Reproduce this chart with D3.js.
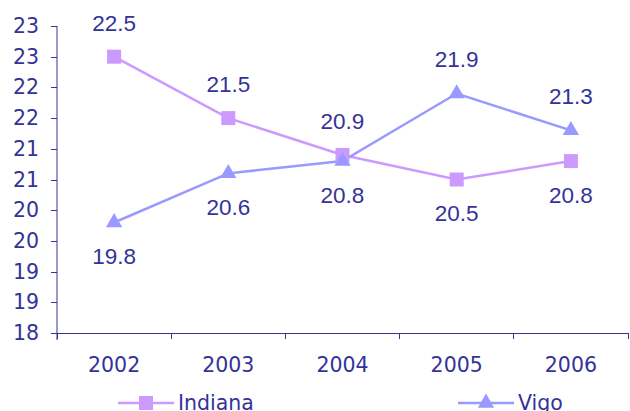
<html>
<head>
    <style>
        body { margin: 0; background: #fff; }
        text { font-family: "DejaVu Sans", Verdana, sans-serif; font-size: 20.5px; fill: #333399; }
        .val { font-family: "Liberation Sans", Arial, sans-serif; font-size: 22.5px; }
    </style>
</head>
<body>
    <svg id="container" width="630" height="411"></svg>
<script src="https://cdn.jsdelivr.net/npm/d3@7"></script>
<script>
    // chart data
    let years = ["2002", "2003", "2004", "2005", "2006"]
    let indiana = [22.5, 21.5, 20.9, 20.5, 20.8]
    let vigo = [19.8, 20.6, 20.8, 21.9, 21.3]
    let yTicks = [18, 18.5, 19, 19.5, 20, 20.5, 21, 21.5, 22, 22.5, 23]

    let svg = d3.select("#container")
    let axisColor = "#333399"

    let xScale = d3.scaleBand().domain(years).range([57, 628])
    let yScale = d3.scaleLinear().domain([18, 23]).range([333, 26])

    // y axis
    let yAxis = svg.append("g")
        .attr("transform", "translate(57,0)")
        .call(d3.axisLeft(yScale).tickValues(yTicks).tickSize(6).tickPadding(12)
            .tickFormat(d => Math.round(d)))
    yAxis.select(".domain").attr("d", "M0,26V340")
    yAxis.selectAll("line").attr("stroke", axisColor)
    yAxis.selectAll("path").attr("stroke", axisColor)
    yAxis.selectAll("text").attr("font-size", null).attr("font-family", null)
        .style("fill", axisColor)

    // x axis, ticks sit at the band edges
    let xAxis = svg.append("g").attr("transform", "translate(0,333)")
    xAxis.append("line").attr("x1", 57).attr("x2", 628).attr("stroke", axisColor)
    let edges = years.map(y => xScale(y)).concat([xScale.range()[1]])
    xAxis.selectAll(".tk").data(edges).join("line")
        .attr("x1", d => d).attr("x2", d => d).attr("y1", 0).attr("y2", 6)
        .attr("stroke", axisColor)
    xAxis.selectAll(".lbl").data(years).join("text")
        .attr("x", d => xScale(d) + xScale.bandwidth() / 2)
        .attr("y", 32).attr("dy", "0.35em").attr("text-anchor", "middle")
        .text(d => d)
    svg.selectAll("line").attr("shape-rendering", "crispEdges")

    let cx = d => xScale(d) + xScale.bandwidth() / 2
    let series = [
        { name: "Indiana", values: indiana, other: vigo, color: "#cc99ff", symbol: d3.symbolSquare, size: 196 },
        { name: "Vigo", values: vigo, other: indiana, color: "#9999ff", symbol: d3.symbolTriangle, size: 115 }
    ]

    series.forEach(s => {
        let line = d3.line().x((d, i) => cx(years[i])).y(d => yScale(d))
        svg.append("path").datum(s.values)
            .attr("d", line).attr("fill", "none")
            .attr("stroke", s.color).attr("stroke-width", 2.5)
    })

    series.forEach(s => {
        svg.selectAll(null).data(s.values).join("path")
            .attr("transform", (d, i) => "translate(" + cx(years[i]) + "," + yScale(d) + ")")
            .attr("d", d3.symbol().type(s.symbol).size(s.size))
            .attr("fill", s.color)
        // label goes above when this series is the higher one
        svg.selectAll(null).data(s.values).join("text")
            .attr("class", "val")
            .attr("x", (d, i) => cx(years[i]))
            .attr("y", (d, i) => yScale(d) + (d > s.other[i] ? -34 : 34))
            .attr("dy", "0.35em").attr("text-anchor", "middle")
            .text(d => d.toFixed(1))
    })

    // legend
    let legendX = [118, 458]
    series.forEach((s, i) => {
        let g = svg.append("g").attr("transform", "translate(" + legendX[i] + ",403)")
        g.append("line").attr("x1", 0).attr("x2", 56).attr("stroke", s.color).attr("stroke-width", 2.5)
        g.append("path").attr("transform", "translate(28,0)")
            .attr("d", d3.symbol().type(s.symbol).size(s.size)).attr("fill", s.color)
        g.append("text").attr("x", 60).attr("dy", "0.35em").text(s.name)
    })
</script>
</body>
</html>
